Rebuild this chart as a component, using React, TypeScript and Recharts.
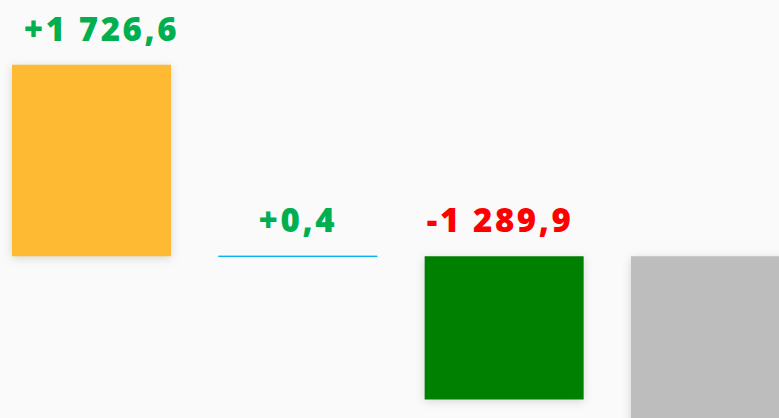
import { Bar, BarChart, Cell, LabelList, XAxis, YAxis } from "recharts";

const steps = ["Начало", "Курсовая разница", "Изменение", "Итого"];
const deltas = [1726.6, 0.4, -1289.9, -2400];
const barColors = ["#FFBA33", "#00B0F0", "#008000", "#BDBDBD"];
const showLabel = [true, true, true, false];
const labelShift = [10, 0, -4, 0];

const data = steps.map((name, i) => ({ name, v: deltas[i], i }));

const fmt = (v: number) => {
  const sign = v > 0 ? "+" : "-";
  const [int, dec] = Math.abs(v).toFixed(1).split(".");
  return `${sign}${int.replace(/\B(?=(\d{3})+(?!\d))/g, " ")},${dec}`;
};

function TopLabel(props: any) {
  const { x, y, width, height, value, index } = props;
  if (!showLabel[index]) return null;
  const top = Math.min(y, y + height);
  return (
    <text
      x={x + width / 2 + labelShift[index]}
      y={top - 24}
      textAnchor="middle"
      fontFamily="'Open Sans', sans-serif"
      fontWeight={800}
      fontSize={33}
      letterSpacing={2.6}
      fill={value >= 0 ? "#00B050" : "#FF0000"}
    >
      {fmt(value)}
    </text>
  );
}

export default function App() {
  return (
    <div style={{ position: "fixed", left: 0, top: 0, width: 779, height: 418, overflow: "hidden", background: "#FAFAFA" }}>
      <div style={{ marginLeft: -11.67 }}>
        <BarChart width={825.3} height={600} data={data} margin={{ top: 0, right: 0, bottom: 0, left: 0 }} barCategoryGap={0}>
          <XAxis dataKey="name" hide />
          <YAxis hide domain={[-3096, 2309]} allowDataOverflow />
          <Bar dataKey="v" barSize={159} isAnimationActive={false}>
            {data.map((d) => (
              <Cell
                key={d.name}
                fill={barColors[d.i]}
                stroke={d.i === 1 ? barColors[d.i] : "none"}
                strokeWidth={1}
                style={{ filter: d.i === 1 ? "none" : "drop-shadow(0 2px 5px rgba(0,0,0,0.14))" }}
              />
            ))}
            <LabelList dataKey="v" content={TopLabel} />
          </Bar>
        </BarChart>
      </div>
    </div>
  );
}
